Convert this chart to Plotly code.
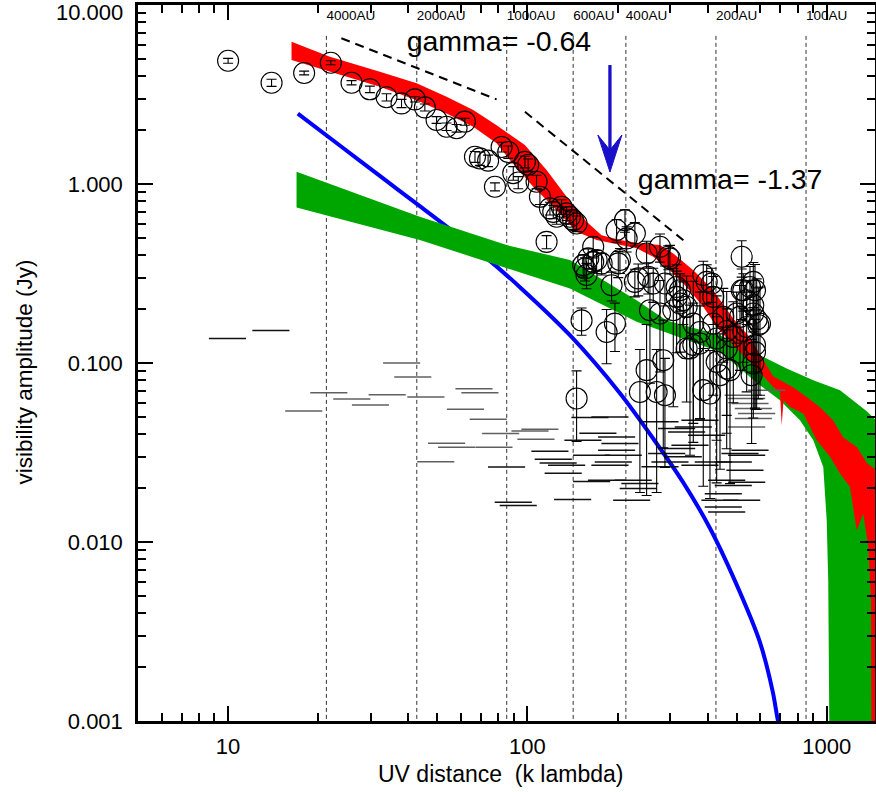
import math
import plotly.graph_objects as go

# ---------------- data ----------------
# visibility amplitudes (open circles with error bars)
vis_uv = [10.0, 13.97, 17.95, 22.04, 25.85, 29.76, 33.83, 37.97, 42.07, 45.44,
          49.72, 53.7, 58.0, 61.8, 66.8, 69.4, 73.9, 77.9, 82.0, 86.3,
          89.7, 93.2, 98.1, 100.6, 107.3, 110.1, 115.9, 118.9, 125.2, 130.1,
          135.2, 142.2, 122.0, 138.7, 146.0, 165.9, 153.6, 165.9, 177.0, 157.6,
          191.1, 198.6, 211.8, 214.6, 228.6, 203.8, 159.7, 170.3, 155.7, 201.2,
          250.2, 277.3, 299.4, 295.5, 234.6, 228.6, 253.3, 263.3, 288.1, 315.2,
          323.4, 331.7, 397.2, 386.9, 412.7, 417.8, 151.7, 183.9, 196.1, 256.7,
          277.3, 323.4, 340.4, 358.3, 377.2, 307.2, 315.2, 284.4, 250.2, 349.3,
          146.0, 237.6, 288.1, 270.3, 386.9, 407.4, 519.9, 428.9, 463.3, 428.9,
          475.2, 576.0, 526.4, 540.3, 568.5, 590.8, 500.4, 526.4, 568.5, 576.0,
          568.5, 583.4, 576.0, 568.5, 417.8, 463.3, 487.5, 451.3, 340.4, 358.3,
          377.2, 440.0, 463.3, 561.2, 554.3, 513.2, 598.5, 540.3, 519.9]
vis_amp = [4.88, 3.68, 4.17, 4.76, 3.68, 3.38, 3.05, 2.82, 2.97, 2.68,
           2.28, 2.09, 2.05, 2.23, 1.42, 1.39, 1.35, 0.965, 1.61, 1.51,
           1.15, 1.02, 1.33, 1.28, 1.03, 0.848, 0.475, 0.731, 0.656, 0.746,
           0.685, 0.628, 0.699, 0.656, 0.602, 0.446, 0.352, 0.367, 0.360, 0.310,
           0.272, 0.553, 0.628, 0.497, 0.530, 0.376, 0.384, 0.376, 0.337, 0.360,
           0.409, 0.446, 0.384, 0.392, 0.297, 0.284, 0.303, 0.278, 0.278, 0.266,
           0.255, 0.224, 0.284, 0.310, 0.278, 0.234, 0.173, 0.149, 0.166, 0.197,
           0.189, 0.215, 0.206, 0.166, 0.149, 0.197, 0.234, 0.1036, 0.0912, 0.1205,
           0.0634, 0.0689, 0.0661, 0.0689, 0.0705, 0.0675, 0.392, 0.137, 0.1205, 0.1014,
           0.0912, 0.1153, 0.255, 0.224, 0.189, 0.163, 0.189, 0.151, 0.284, 0.255,
           0.210, 0.175, 0.126, 0.0993, 0.166, 0.151, 0.140, 0.181, 0.1205, 0.126,
           0.1285, 0.0855, 0.0932, 0.0855, 0.266, 0.181, 0.166, 0.159, 0.255]
vis_err = [0.15, 0.17, 0.10, 0.12, 0.10, 0.14, 0.14, 0.15, 0.10, 0.12,
           0.10, 0.10, 0.10, 0.10, 0.10, 0.12, 0.10, 0.05, 0.10, 0.12,
           0.10, 0.08, 0.10, 0.10, 0.09, 0.08, 0.04, 0.06, 0.06, 0.07,
           0.06, 0.07, 0.06, 0.06, 0.06, 0.06, 0.05, 0.05, 0.05, 0.05,
           0.05, 0.08, 0.09, 0.08, 0.08, 0.06, 0.05, 0.05, 0.05, 0.06,
           0.07, 0.08, 0.07, 0.06, 0.06, 0.05, 0.06, 0.06, 0.07, 0.06,
           0.06, 0.06, 0.07, 0.06, 0.06, 0.07, 0.03, 0.05, 0.05, 0.12,
           0.10, 0.10, 0.10, 0.12, 0.10, 0.14, 0.12, 0.07, 0.073, 0.09,
           0.027, 0.05, 0.04, 0.05, 0.05, 0.05, 0.09, 0.10, 0.08, 0.08,
           0.07, 0.06, 0.06, 0.06, 0.10, 0.10, 0.06, 0.05, 0.08, 0.10,
           0.08, 0.12, 0.07, 0.05, 0.10, 0.10, 0.08, 0.08, 0.06, 0.09,
           0.08, 0.06, 0.06, 0.05, 0.08, 0.09, 0.10, 0.09, 0.08]

# noise level bins (horizontal segments, no markers)
noise_gray_uv = [38.0, 41.4, 21.7, 25.9, 34.0, 29.9, 17.9, 45.8, 66.3, 69.4,
                 62.1, 74.0, 81.4, 53.7, 58.0, 77.3, 49.4, 102.0, 110.1, 106.8,
                 540.3, 568.5, 583.4, 568.5, 554.3, 540.3, 526.4, 630.2]
noise_gray_amp = [0.100, 0.0836, 0.0681, 0.0630, 0.0664, 0.0582, 0.0539, 0.0646, 0.0717, 0.0681,
                  0.0552, 0.0485, 0.0404, 0.0356, 0.0338, 0.0338, 0.0281, 0.0417, 0.0427, 0.0375,
                  0.0439, 0.0490, 0.0522, 0.0557, 0.0594, 0.0633, 0.0661, 0.0705]
noise_black_uv = [9.95, 13.9, 85.2, 118.9, 122.0, 126.7, 135.2, 131.7, 163.9, 89.7,
                  93.2, 141.6, 161.8, 172.0, 153.3, 163.9, 188.7, 198.6, 203.8, 198.6,
                  209.0, 193.6, 188.7, 183.9, 225.7, 237.6, 234.6, 223.0, 277.3, 315.2,
                  340.4, 358.3, 377.2, 397.2, 349.3, 315.2, 292.0, 331.7, 299.4, 277.3,
                  377.2, 417.8, 487.4, 513.2, 463.3, 487.4, 451.3, 451.3, 463.3, 440.0,
                  554.3, 540.3, 533.3, 540.3, 519.9]
noise_black_amp = [0.137, 0.152, 0.0262, 0.0321, 0.0290, 0.0276, 0.0268, 0.0242, 0.0218, 0.0167,
                   0.0160, 0.0173, 0.0496, 0.0405, 0.0370, 0.0305, 0.0500, 0.0386, 0.0355, 0.0326,
                   0.0305, 0.0280, 0.0268, 0.0221, 0.0221, 0.0212, 0.0199, 0.0171, 0.0469, 0.0430,
                   0.0412, 0.0439, 0.0479, 0.0395, 0.0347, 0.0333, 0.0312, 0.0299, 0.0280, 0.0263,
                   0.0268, 0.0280, 0.0280, 0.0312, 0.0221, 0.0207, 0.0186, 0.0157, 0.0147, 0.0171,
                   0.0326, 0.0305, 0.0252, 0.0216, 0.0171]

# red model band
red_upper_uv = [16.29, 21.88, 32.14, 42.64, 53.7, 65.92, 78.89, 98.08, 115.9, 135.2,
                157.7, 177.0, 203.8, 237.7, 277.3, 307.2, 358.3, 417.8, 486.3, 554.3,
                661.5, 771.7, 859.6, 949.7, 1050, 1134, 1263, 1364, 1462]
red_upper_amp = [6.24, 5.14, 4.24, 3.65, 3.07, 2.59, 2.13, 1.65, 1.196, 0.848,
                 0.615, 0.518, 0.486, 0.466, 0.456, 0.409, 0.330, 0.255, 0.178, 0.139,
                 0.0844, 0.0732, 0.0644, 0.0566, 0.0479, 0.0385, 0.0338, 0.0275, 0.0252]
red_lower_uv = [16.29, 21.88, 32.14, 42.64, 53.7, 65.92, 78.89, 87.4, 104.6, 122.0,
                146.0, 170.3, 193.6, 231.7, 263.3, 299.4, 340.4, 386.9, 428.9, 486.3,
                554.3, 663.0, 698.1, 707.3, 717.2, 754.0, 835.3, 926.0, 1026, 1108,
                1196, 1260, 1325, 1377, 1406, 1417, 1462]
red_lower_amp = [4.93, 4.24, 3.49, 2.94, 2.48, 2.09, 1.69, 1.36, 0.965, 0.746,
                 0.541, 0.486, 0.466, 0.437, 0.392, 0.330, 0.266, 0.206, 0.159, 0.126,
                 0.1014, 0.0735, 0.0689, 0.0449, 0.0619, 0.0568, 0.0522, 0.0370, 0.0299, 0.0241,
                 0.0203, 0.0116, 0.0144, 0.00938, 0.00472, 0.0001, 0.0001]

# green model band
green_upper_uv = [16.93, 43.7, 85.2, 138.7, 231.7, 292.0, 440.0, 598.5, 735.0, 902.0,
                  1108, 1361, 1462]
green_upper_amp = [1.17, 0.656, 0.456, 0.376, 0.224, 0.173, 0.143, 0.1105, 0.0931, 0.0801,
                   0.0705, 0.0538, 0.0479]
green_lower_uv = [16.93, 43.7, 138.7, 231.7, 440.0, 598.5, 698.0, 814.0, 902.0, 974.0,
                  1000, 1012, 1020, 1022, 1462]
green_lower_amp = [0.740, 0.486, 0.261, 0.170, 0.1153, 0.0751, 0.0619, 0.0479, 0.0370, 0.0262,
                   0.0132, 0.0060, 0.0010, 0.0001, 0.0001]

# blue model curve
blue_uv = [17.10, 23.62, 32.14, 43.7, 55.1, 73.1, 94.4, 138.7, 203.8, 262.7,
           331.0, 407.4, 513.2, 598.5, 661.0, 686.9, 708.6]
blue_amp = [2.475, 1.641, 1.110, 0.752, 0.560, 0.3855, 0.2652, 0.1430, 0.0678, 0.0380,
            0.0216, 0.01193, 0.00523, 0.00275, 0.001445, 0.001008, 0.00083]

# power-law guide lines
gamma1_uv = [23.9, 78.9]
gamma1_amp = [6.52, 2.97]
gamma2_uv = [98.1, 332.0]
gamma2_amp = [2.53, 0.485]
gamma_labels = ["gamma= -0.64", "gamma= -1.37"]
gamma_label_uv = [39.5, 233.9]
gamma_label_amp = [6.05, 1.025]

# spatial-scale markers
au_labels = ["4000AU", "2000AU", "1000AU", "600AU", "400AU", "200AU", "100AU"]
au_uv = [21.3, 42.7, 85.3, 142.2, 213.3, 426.5, 853.0]
au_line_top = 6.97
au_label_amp = 8.6

# arrow
arrow_uv = 188.7
arrow_shaft_amp = [4.62, 1.55]
arrow_head_uv = [172.0, 188.7, 206.9, 188.7, 172.0]
arrow_head_amp = [1.877, 1.166, 1.877, 1.547, 1.877]

ytick_vals = [0.001, 0.01, 0.1, 1.0]
ytick_text = ["0.001", "0.010", "0.100", "1.000"]
xtick_vals = [10, 100, 1000]
xtick_text = ["10", "100", "1000"]

FONT = "Liberation Sans, Arial, Helvetica, sans-serif"

fig = go.Figure()

# vertical dashed lines
vx, vy = [], []
for u in au_uv:
    vx += [u, u, None]
    vy += [0.0005, au_line_top, None]
fig.add_trace(go.Scatter(x=vx, y=vy, mode="lines",
                         line=dict(color="#333333", width=1, dash="4px,3px"),
                         hoverinfo="skip", showlegend=False))

# blue curve (drawn beneath the bands)
fig.add_trace(go.Scatter(x=blue_uv, y=blue_amp, mode="lines",
                         line=dict(color="#0000ff", width=4, shape="spline", smoothing=0.8),
                         showlegend=False))
# green band
fig.add_trace(go.Scatter(x=green_upper_uv + green_lower_uv[::-1],
                         y=green_upper_amp + green_lower_amp[::-1],
                         mode="lines", fill="toself", fillcolor="#00a600",
                         line=dict(width=0, color="#00a600"), showlegend=False))
# red band
fig.add_trace(go.Scatter(x=red_upper_uv + red_lower_uv[::-1],
                         y=red_upper_amp + red_lower_amp[::-1],
                         mode="lines", fill="toself", fillcolor="#ff0000",
                         line=dict(width=0, color="#ff0000"), showlegend=False))

# power-law dashed guides
for gx, gy in [(gamma1_uv, gamma1_amp), (gamma2_uv, gamma2_amp)]:
    fig.add_trace(go.Scatter(x=gx, y=gy, mode="lines",
                             line=dict(color="black", width=2, dash="9px,6px"),
                             showlegend=False))

# arrow
fig.add_trace(go.Scatter(x=[arrow_uv, arrow_uv], y=arrow_shaft_amp, mode="lines",
                         line=dict(color="#1a0fc8", width=3.3), showlegend=False))
fig.add_trace(go.Scatter(x=arrow_head_uv, y=arrow_head_amp, mode="lines", fill="toself",
                         fillcolor="#1a0fc8", line=dict(color="#1a0fc8", width=1),
                         showlegend=False))

# noise segments
half = 10 ** 0.062
for seg_uv, seg_amp, col in [(noise_gray_uv, noise_gray_amp, "#606060"),
                             (noise_black_uv, noise_black_amp, "#111111")]:
    sx, sy = [], []
    for u, a in zip(seg_uv, seg_amp):
        sx += [u / half, u * half, None]
        sy += [a, a, None]
    fig.add_trace(go.Scatter(x=sx, y=sy, mode="lines",
                             line=dict(color=col, width=1.5), showlegend=False))

# visibility points
fig.add_trace(go.Scatter(x=vis_uv, y=vis_amp, mode="markers",
                         marker=dict(symbol="circle-open", size=21,
                                     color="black", line=dict(color="black", width=1.1)),
                         error_y=dict(type="data", array=vis_err, visible=True,
                                      color="black", thickness=1.1, width=5),
                         showlegend=False))

# AU labels
fig.add_trace(go.Scatter(x=au_uv, y=[au_label_amp] * len(au_uv), mode="text",
                         text=au_labels, textposition="middle right",
                         textfont=dict(family=FONT, size=13.5, color="black"),
                         showlegend=False))
# gamma labels
fig.add_trace(go.Scatter(x=gamma_label_uv, y=gamma_label_amp, mode="text",
                         text=gamma_labels, textposition="middle right",
                         textfont=dict(family=FONT, size=28.5, color="black"),
                         showlegend=False))

axis_common = dict(type="log", showgrid=False, zeroline=False, showline=True,
                   automargin=False,
                   linecolor="black", linewidth=2.5, mirror="allticks",
                   ticks="inside", ticklen=15, tickwidth=2, tickcolor="black",
                   tickfont=dict(family=FONT, size=22, color="black"))

minor_x = [6, 7, 8, 9, 20, 30, 40, 50, 60, 70, 80, 90,
           200, 300, 400, 500, 600, 700, 800, 900]
minor_y = [0.002, 0.003, 0.004, 0.005, 0.006, 0.007, 0.008, 0.009,
           0.02, 0.03, 0.04, 0.05, 0.06, 0.07, 0.08, 0.09,
           0.2, 0.3, 0.4, 0.5, 0.6, 0.7, 0.8, 0.9,
           2, 3, 4, 5, 6, 7, 8, 9]

fig.update_layout(
    width=876, height=792,
    margin=dict(l=138, r=1, t=5, b=71, autoexpand=False),
    paper_bgcolor="white", plot_bgcolor="white",
    font=dict(family=FONT, color="black"),
    xaxis=dict(axis_common, range=[math.log10(5.0), math.log10(1450)],
               tickmode="array", tickvals=xtick_vals, ticktext=xtick_text,
               ticklabelstandoff=4,
               minor=dict(ticks="inside", ticklen=8, tickwidth=1.5,
                          tickcolor="black", tickvals=minor_x)),
    yaxis=dict(axis_common, range=[-3, 1],
               tickmode="array", tickvals=ytick_vals, ticktext=ytick_text,
               ticklabelstandoff=8,
               minor=dict(ticks="inside", ticklen=8, tickwidth=1.5,
                          tickcolor="black", tickvals=minor_y)),
    annotations=[
        dict(text="10.000", xref="paper", yref="paper", x=0, y=1 - 8 / 716,
             xanchor="right", yanchor="middle", xshift=-13, showarrow=False,
             font=dict(family=FONT, size=22, color="black")),
        dict(text="UV distance  (k lambda)", xref="paper", yref="paper",
             x=(625 - 138) / 737, y=-53 / 716, xanchor="right", yanchor="middle",
             showarrow=False, font=dict(family=FONT, size=23, color="black")),
        dict(text="visibility amplitude (Jy)", xref="paper", yref="paper",
             x=-114.5 / 737, y=(721 - 372) / 716, xanchor="center", yanchor="middle",
             textangle=-90, showarrow=False,
             font=dict(family=FONT, size=22.5, color="black")),
    ],
)

fig.write_html("out.html",
               config={"displayModeBar": False},
               post_script="document.body.style.margin='0px';"
                           "document.body.style.overflow='hidden';")
